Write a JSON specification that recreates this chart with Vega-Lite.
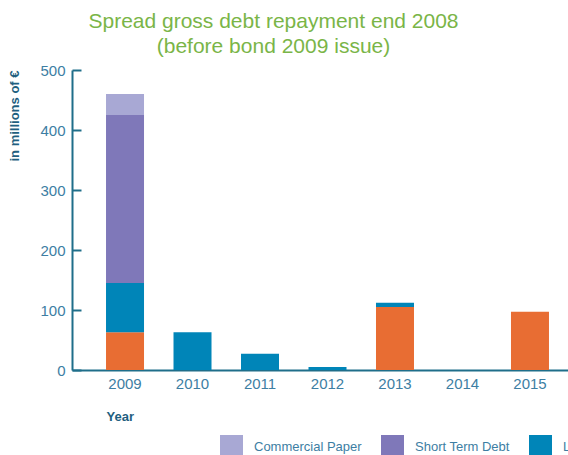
{
  "$schema": "https://vega.github.io/schema/vega-lite/v6.json",
  "width": 511,
  "height": 300,
  "padding": {"left": 72, "top": 70, "right": 0, "bottom": 85},
  "autosize": {"type": "none"},
  "background": "white",
  "config": {
    "view": {"stroke": null},
    "font": "Liberation Sans"
  },
  "title": {
    "text": ["Spread gross debt repayment end 2008", "(before bond 2009 issue)"],
    "color": "#7ab547",
    "fontSize": 21,
    "fontWeight": "normal",
    "font": "Liberation Sans",
    "lineHeight": 25,
    "anchor": "middle",
    "dx": -54,
    "offset": 6
  },
  "data": {
    "values": [
      {"year": "2009", "type": "Bonds", "value": 63, "ord": 1},
      {"year": "2009", "type": "Long Term Debt", "value": 82, "ord": 2},
      {"year": "2009", "type": "Short Term Debt", "value": 280, "ord": 3},
      {"year": "2009", "type": "Commercial Paper", "value": 35, "ord": 4},
      {"year": "2010", "type": "Long Term Debt", "value": 63, "ord": 2},
      {"year": "2011", "type": "Long Term Debt", "value": 27, "ord": 2},
      {"year": "2012", "type": "Long Term Debt", "value": 5, "ord": 2},
      {"year": "2013", "type": "Bonds", "value": 105, "ord": 1},
      {"year": "2013", "type": "Long Term Debt", "value": 7, "ord": 2},
      {"year": "2015", "type": "Bonds", "value": 97, "ord": 1}
    ]
  },
  "mark": {"type": "bar"},
  "encoding": {
    "x": {
      "field": "year",
      "type": "ordinal",
      "scale": {"domain": ["2009", "2010", "2011", "2012", "2013", "2014", "2015"], "paddingInner": 0.437, "paddingOuter": 0.504},
      "axis": {
        "title": "Year",
        "labelAngle": 0,
        "labelFontSize": 15,
        "labelColor": "#3d7ea3",
        "labelPadding": 6,
        "ticks": false,
        "domainColor": "#1f6e8a",
        "domainWidth": 2,
        "titleColor": "#1f5f80",
        "titleFontSize": 13,
        "titleFontWeight": "bold",
        "titleAnchor": "start",
        "titleAlign": "left",
        "titleX": 34,
        "titleY": 50,
        "titleBaseline": "alphabetic"
      }
    },
    "y": {
      "field": "value",
      "type": "quantitative",
      "aggregate": "sum",
      "scale": {"domain": [0, 500]},
      "axis": {
        "title": "in millions of €",
        "values": [0, 100, 200, 300, 400, 500],
        "grid": false,
        "labelFontSize": 15,
        "labelColor": "#3d7ea3",
        "tickSize": -9,
        "tickColor": "#1f6e8a",
        "tickWidth": 2,
        "labelPadding": 16,
        "domainColor": "#1f6e8a",
        "domainWidth": 2,
        "titleColor": "#1f5f80",
        "titleFontSize": 13,
        "titleFontWeight": "bold",
        "titleAnchor": "end",
        "titlePadding": 18
      }
    },
    "color": {
      "field": "type",
      "type": "nominal",
      "scale": {
        "domain": ["Commercial Paper", "Short Term Debt", "Long Term Debt", "Bonds"],
        "range": ["#a8a8d4", "#7f78b9", "#0085b8", "#e86d33"]
      },
      "legend": {
        "title": null,
        "orient": "none",
        "direction": "horizontal",
        "legendX": 148,
        "legendY": 365,
        "symbolType": "square",
        "symbolSize": 529,
        "symbolStrokeWidth": 0,
        "labelFontSize": 13,
        "labelColor": "#3d7ea3",
        "labelOffset": 11,
        "columnPadding": 19
      }
    },
    "order": {"field": "ord", "type": "quantitative"}
  }
}
